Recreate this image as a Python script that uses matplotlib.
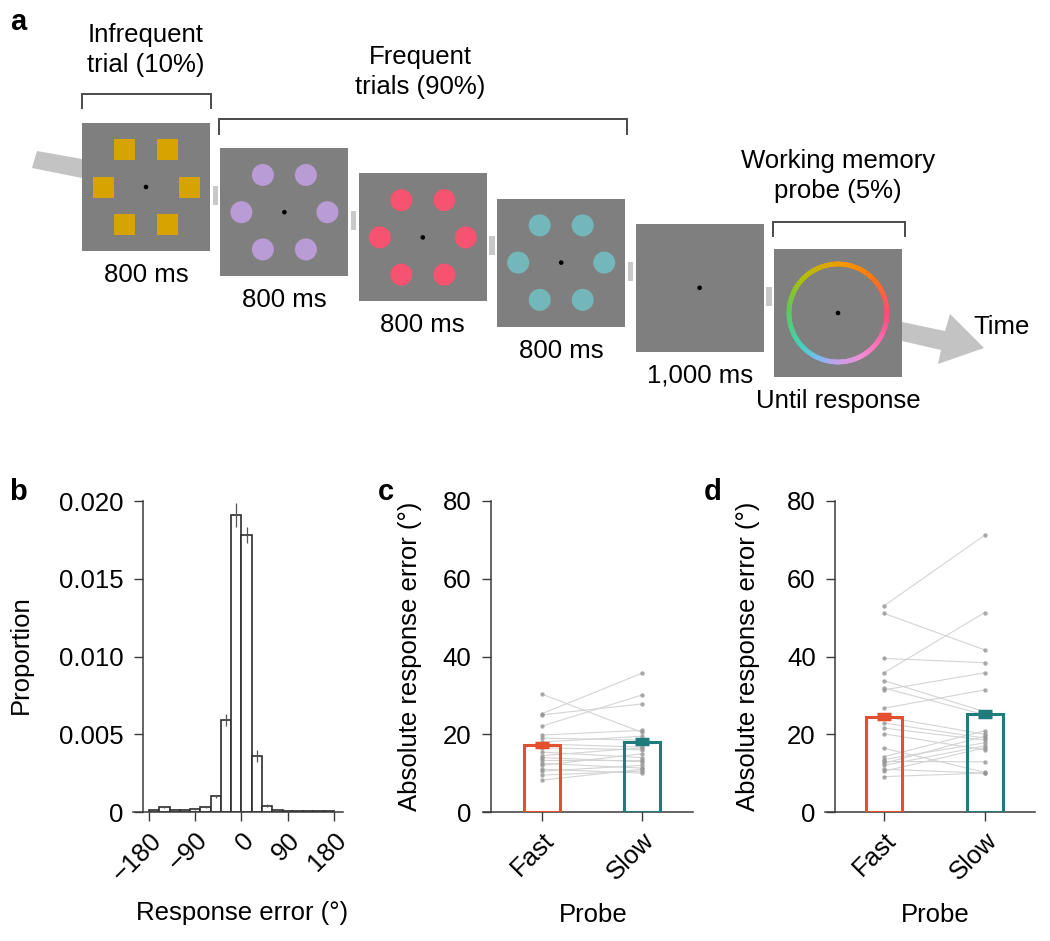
import numpy as np
import matplotlib
matplotlib.use("Agg")
import matplotlib.pyplot as plt
from matplotlib.patches import Rectangle, Circle, Polygon
from matplotlib.collections import LineCollection
from matplotlib.colors import LinearSegmentedColormap

plt.rcParams['font.family'] = ['Liberation Sans', 'DejaVu Sans']
plt.rcParams['font.size'] = 18.5

# ---- panel a: task sequence ----
frame_labels = ['800 ms', '800 ms', '800 ms', '800 ms', '1,000 ms', 'Until response']
frame_shapes = ['square', 'circle', 'circle', 'circle', None, 'ring']
frame_colors = ['#d6a300', '#b99bd5', '#f5536f', '#74b7ba', None, None]

# ---- panel b: response error histogram ----
bin_left = [-180, -160, -140, -120, -100, -80, -60, -40, -20, 0, 20, 40, 60, 80, 100, 120, 140, 160]
hist_prop = [0.0001, 0.0003, 0.0001, 0.0001, 0.0002, 0.0003, 0.0010, 0.0059, 0.0191,
             0.0178, 0.0036, 0.0004, 0.0001, 0.00005, 0.00005, 0.00005, 0.00005, 0.00005]
hist_err = [0.00003, 0.00005, 0.00003, 0.00003, 0.00005, 0.00005, 0.0001, 0.0004, 0.0008,
            0.0005, 0.0004, 0.0001, 0.00002, 0.00002, 0.00002, 0.00002, 0.00002, 0.00002]
b_ticks = [-180, -90, 0, 90, 180]
b_ticklabels = ['\u2212180', '\u221290', '0', '90', '180']

# ---- panels c, d: absolute response error ----
probes = ['Fast', 'Slow']
c_fast = [30.3, 25.3, 25.0, 22.1, 19.8, 19.0, 18.0, 17.5, 16.5, 15.4, 14.5, 14.0, 13.5, 12.5, 12.0, 11.0, 10.5, 9.5, 8.2]
c_slow = [20.5, 35.7, 27.8, 30.1, 21.0, 18.5, 19.5, 16.7, 16.0, 14.0, 16.5, 12.9, 13.5, 11.3, 15.0, 10.0, 12.0, 10.5, 11.0]
c_mean = [17.2, 18.1]
c_sem = [0.5, 0.6]

d_fast = [53.0, 51.1, 39.5, 35.8, 33.8, 31.9, 31.4, 26.7, 24.5, 22.9, 21.6, 20.1, 16.4, 14.2, 13.5, 13.0, 12.5, 12.0, 11.0, 10.5, 9.1]
d_slow = [71.2, 41.7, 38.4, 51.3, 25.8, 25.0, 35.8, 31.4, 20.0, 19.0, 18.5, 16.0, 10.2, 20.9, 17.8, 12.9, 19.5, 17.0, 10.0, 16.5, 10.0]
d_mean = [24.5, 25.2]
d_sem = [0.7, 0.7]

bar_colors = ['#e4502f', '#1f7b7c']
axis_col = '#3a3a3a'

fig = plt.figure(figsize=(10.5, 9.41), dpi=100)

# panel a drawn in pixel coordinates
ax_a = fig.add_axes([0, 0, 1, 1])
ax_a.set_xlim(0, 1050)
ax_a.set_ylim(941, 0)
ax_a.set_axis_off()

fsize = 128
x_first, y_first = 82, 123
dx, dy = 138.4, 25.2
hex_r = 43
ang = np.deg2rad([0, 60, 120, 180, 240, 300])

ax_a.add_patch(Polygon([(37, 151), (82, 159), (82, 178), (32, 168)], closed=True,
                       facecolor='#c3c3c3', edgecolor='none'))

# hue around the response wheel (angle in degrees, counter-clockwise from the right)
wheel = [(0, '#ff4a7a'), (45, '#ff7614'), (90, '#f09c00'), (135, '#b4be00'),
         (180, '#5cc85c'), (225, '#46d0c0'), (250, '#80b8f0'), (270, '#c4a0ec'),
         (300, '#f08ed6'), (330, '#ff6cae'), (360, '#ff4a7a')]

for i in range(6):
    x0 = x_first + i * dx
    y0 = y_first + i * dy
    cx, cy = x0 + fsize / 2, y0 + fsize / 2
    ax_a.add_patch(Rectangle((x0, y0), fsize, fsize, facecolor='#7f7f7f', edgecolor='none'))
    if frame_shapes[i] == 'square':
        for a in ang:
            sx, sy = cx + hex_r * np.cos(a), cy + hex_r * np.sin(a)
            ax_a.add_patch(Rectangle((sx - 10.5, sy - 10.5), 21, 21, facecolor=frame_colors[i], edgecolor='none'))
    elif frame_shapes[i] == 'circle':
        for a in ang:
            sx, sy = cx + hex_r * np.cos(a), cy + hex_r * np.sin(a)
            ax_a.add_patch(Circle((sx, sy), 11, facecolor=frame_colors[i], edgecolor='none'))
    elif frame_shapes[i] == 'ring':
        cmap = LinearSegmentedColormap.from_list('wheel', [(d / 360, c) for d, c in wheel])
        th = np.linspace(0, 2 * np.pi, 361)
        px = cx + 49 * np.cos(th)
        py = cy - 49 * np.sin(th)
        pts = np.column_stack([px, py]).reshape(-1, 1, 2)
        segs = np.concatenate([pts[:-1], pts[1:]], axis=1)
        lc = LineCollection(segs, colors=cmap(np.linspace(0, 1, 360)), linewidths=3.4, capstyle='round')
        ax_a.add_collection(lc)
    ax_a.add_patch(Circle((cx, cy), 2.3, facecolor='black', edgecolor='none'))
    ax_a.text(cx, y0 + fsize + 24, frame_labels[i], ha='center', va='center', fontsize=18.5)
    if i < 5:
        gx = x0 + fsize + (dx - fsize) / 2
        ax_a.add_patch(Rectangle((gx - 2.7, cy - 1), 5.4, 19, facecolor='#c8c8c8', edgecolor='none'))

# right arrow
ax_a.add_patch(Polygon([(902, 322), (945, 331), (950, 314), (984, 348), (938, 364), (941, 350), (902, 341)],
                       closed=True, facecolor='#c3c3c3', edgecolor='none'))
ax_a.text(1002, 327, 'Time', ha='center', va='center', fontsize=18.5)

# brackets
def bracket(x1, x2, y, h):
    ax_a.plot([x1, x1, x2, x2], [y + h, y, y, y + h], color='#4a4a4a', lw=1.4, solid_joinstyle='miter')

bracket(82, 211, 94, 14)
bracket(219, 627, 119, 15)
bracket(773, 905, 222, 14)
ax_a.text(146, 50, 'Infrequent\ntrial (10%)', ha='center', va='center', fontsize=18.5, linespacing=1.3)
ax_a.text(420, 72, 'Frequent\ntrials (90%)', ha='center', va='center', fontsize=18.5, linespacing=1.3)
ax_a.text(838, 176, 'Working memory\nprobe (5%)', ha='center', va='center', fontsize=18.5, linespacing=1.3)
ax_a.text(18, 22, 'a', ha='center', va='center', fontsize=21, fontweight='bold')

ax_a.text(18, 492, 'b', ha='center', va='center', fontsize=21, fontweight='bold')
ax_a.text(386, 492, 'c', ha='center', va='center', fontsize=21, fontweight='bold')
ax_a.text(713, 492, 'd', ha='center', va='center', fontsize=21, fontweight='bold')


def style_axes(ax):
    for s in ['top', 'right']:
        ax.spines[s].set_visible(False)
    for s in ['left', 'bottom']:
        ax.spines[s].set_color(axis_col)
        ax.spines[s].set_linewidth(1.1)
    ax.tick_params(direction='out', length=6.5, width=1.0, color=axis_col, labelsize=18.5, pad=4)
    ax.tick_params(axis='y', pad=7.5)
    ax.patch.set_alpha(0)


H = 311 / 941
W = 210 / 1050
bottom = (941 - 812) / 941

# ---- panel b ----
ax_b = fig.add_axes([133 / 1050, bottom, W, H * 0.0202 / 0.020])
style_axes(ax_b)
ax_b.bar(bin_left, hist_prop, width=20, align='edge', facecolor='white', edgecolor='#2e2e2e', linewidth=1.2, zorder=2)
centers = [b + 10 for b in bin_left]
ax_b.errorbar(centers, hist_prop, yerr=hist_err, fmt='none', ecolor='#555555', elinewidth=0.9, zorder=3)
ax_b.set_xlim(-211.1, 197.5)
ax_b.set_ylim(0, 0.0202)
ax_b.spines['left'].set_position(('data', -191.7))
ax_b.spines['left'].set_bounds(0, 0.02)
ax_b.set_yticks([0, 0.005, 0.010, 0.015, 0.020])
ax_b.set_yticklabels(['0', '0.005', '0.010', '0.015', '0.020'])
ax_b.set_xticks(b_ticks)
ax_b.set_xticklabels(b_ticklabels, rotation=45, ha='right', va='top', rotation_mode='anchor')
ax_b.tick_params(axis='x', pad=5)
ax_b.set_ylabel('Proportion')
ax_b.yaxis.set_label_coords(-0.476, 0.5)
ax_b.set_xlabel('Response error (\u00b0)')
ax_b.xaxis.set_label_coords(0.52, -0.283)


def paired_panel(left_px, xlim, spine_x, fast, slow, means, sems):
    ax = fig.add_axes([left_px / 1050, bottom, W, H])
    style_axes(ax)
    for f, s in zip(fast, slow):
        ax.plot([0, 1], [f, s], color='#d4d4d4', lw=0.8, zorder=1)
    ax.scatter([0] * len(fast), fast, s=10, color='#959595', alpha=0.8, linewidths=0, zorder=2)
    ax.scatter([1] * len(slow), slow, s=10, color='#959595', alpha=0.8, linewidths=0, zorder=2)
    ax.bar([0, 1], means, width=0.36, facecolor='none', edgecolor=bar_colors, linewidth=2.2, zorder=3)
    for k in range(2):
        ax.errorbar(k, means[k], yerr=sems[k], fmt='none', ecolor=bar_colors[k],
                    elinewidth=3, capsize=5, capthick=2.5, zorder=4)
    ax.set_xlim(*xlim)
    ax.set_ylim(0, 80)
    ax.spines['left'].set_position(('data', spine_x))
    ax.set_yticks([0, 20, 40, 60, 80])
    ax.set_xticks([0, 1])
    ax.set_xticklabels(probes, rotation=45, ha='right', va='top', rotation_mode='anchor')
    ax.tick_params(axis='x', pad=5)
    ax.set_xlabel('Probe')
    ax.xaxis.set_label_coords(0.524, -0.293)
    ax.set_ylabel('Absolute response error (\u00b0)')
    return ax


ax_c = paired_panel(483, (-0.59, 1.51), -0.51, c_fast, c_slow, c_mean, c_sem)
ax_c.yaxis.set_label_coords(-0.29, 0.5)
ax_d = paired_panel(825, (-0.585, 1.50), -0.485, d_fast, d_slow, d_mean, d_sem)
ax_d.yaxis.set_label_coords(-0.31, 0.5)

fig.savefig('out.png', dpi=100)
